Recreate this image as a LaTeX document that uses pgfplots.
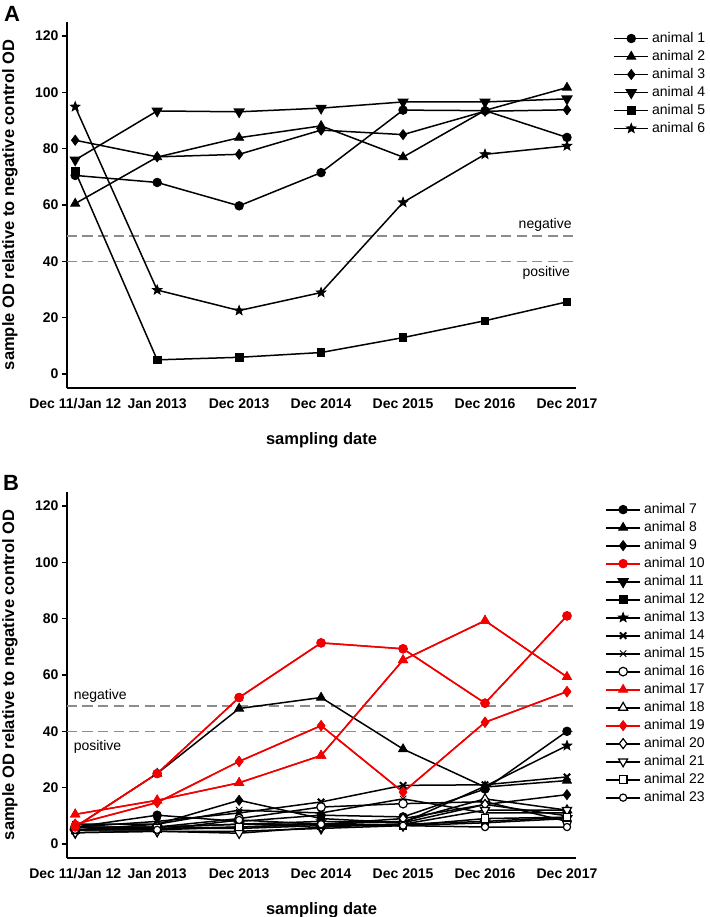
\documentclass[border=0pt]{standalone}
\usepackage{fontspec}
\setmainfont{Liberation Sans}
\usepackage{pgfplots}
\pgfplotsset{compat=1.18}
\definecolor{refline}{HTML}{8C8C8C}
\definecolor{odred}{HTML}{F00000}

% filled five-point star
\pgfdeclareplotmark{fstar}{%
  \pgfpathmoveto{\pgfpointpolar{90}{\pgfplotmarksize}}%
  \pgfpathlineto{\pgfpointpolar{126}{0.42\pgfplotmarksize}}%
  \pgfpathlineto{\pgfpointpolar{162}{\pgfplotmarksize}}%
  \pgfpathlineto{\pgfpointpolar{198}{0.42\pgfplotmarksize}}%
  \pgfpathlineto{\pgfpointpolar{234}{\pgfplotmarksize}}%
  \pgfpathlineto{\pgfpointpolar{270}{0.42\pgfplotmarksize}}%
  \pgfpathlineto{\pgfpointpolar{306}{\pgfplotmarksize}}%
  \pgfpathlineto{\pgfpointpolar{342}{0.42\pgfplotmarksize}}%
  \pgfpathlineto{\pgfpointpolar{18}{\pgfplotmarksize}}%
  \pgfpathlineto{\pgfpointpolar{54}{0.42\pgfplotmarksize}}%
  \pgfpathclose
  \pgfusepathqfillstroke
}

\tikzset{txt/.style={font=\fontsize{14}{16}\selectfont}}

\pgfplotsset{
  od panel/.style={
    scale only axis, width=509pt, height=366pt,
    axis x line*=bottom, axis y line*=left,
    axis line style={line width=1.6pt},
    xmin=-0.1, xmax=6.11, ymin=-5, ymax=125,
    xtick={0,...,6},
    xticklabels={Dec 11/Jan 12,Jan 2013,Dec 2013,Dec 2014,Dec 2015,Dec 2016,Dec 2017},
    ytick={0,20,...,120},
    tick align=outside,
    major tick length=5pt,
    x tick style={draw=none},
    y tick style={line width=1.2pt, black},
    ticklabel style={font=\bfseries\fontsize{14}{16}\selectfont},
    xticklabel style={yshift=-2pt},
    /pgf/number format/assume math mode=true,
    xlabel={sampling date},
    ylabel={sample OD relative to negative control OD},
    every axis x label/.style={at={(axis description cs:0.5,-0.142)}, anchor=center,
      font=\bfseries\fontsize{16.5}{18}\selectfont},
    every axis y label/.style={at={(axis description cs:-0.112,0.5)}, anchor=center, rotate=90,
      font=\bfseries\fontsize{16.5}{18}\selectfont},
    legend cell align=left,
    legend style={draw=none, fill=none, inner sep=0pt, row sep=0pt,
      font=\fontsize{14}{16}\selectfont,
      nodes={inner ysep=2pt, inner xsep=3pt, text height=11pt, text depth=3pt}},
    every legend image post/.append style={line width=1.8pt},
    legend image code/.code={\draw[mark repeat=2, mark phase=2, line width=1.8pt]
      plot coordinates {(0pt,0pt)(17pt,0pt)(34pt,0pt)};},
  },
  ser/.style={line width=1.5pt, black, mark options={solid, line width=0.8pt}},
  rser/.style={line width=1.5pt, odred, mark options={solid, line width=0.8pt}},
  cut/.style={forget plot, refline, line width=1.1pt, dash pattern=on 10pt off 5.5pt},
}

\begin{document}
\begin{tikzpicture}
\useasboundingbox (0pt,0pt) rectangle (709pt,917pt);

% ---------- panel A ----------
\begin{axis}[od panel, at={(67pt,529pt)}, anchor=south west,
  legend style={at={(1.073,0.980)}, anchor=north west}]
\addplot[cut] coordinates {(-0.1,49) (6.11,49)};
\addplot[cut] coordinates {(-0.1,40) (6.11,40)};
\addplot[ser, mark=*, mark size=4.3pt] coordinates {(0,70.5)(1,68)(2,59.7)(3,71.5)(4,93.7)(5,93.5)(6,84)};
\addplot[ser, mark=triangle*, mark size=5.2pt] coordinates {(0,60.5)(1,77)(2,83.9)(3,88.1)(4,77)(5,93.6)(6,101.7)};
\addplot[ser, mark=diamond*, mark size=5pt] coordinates {(0,83)(1,77.1)(2,78)(3,86.6)(4,85)(5,93.3)(6,93.8)};
\addplot[ser, mark=triangle*, mark size=5.2pt, mark options={rotate=180}] coordinates {(0,76)(1,93.4)(2,93.1)(3,94.4)(4,96.6)(5,96.6)(6,97.7)};
\addplot[ser, mark=square*, mark size=3.8pt] coordinates {(0,72)(1,5)(2,5.9)(3,7.6)(4,12.9)(5,18.9)(6,25.6)};
\addplot[ser, mark=fstar, mark size=5pt] coordinates {(0,94.9)(1,29.8)(2,22.5)(3,28.9)(4,60.9)(5,78)(6,81)};
\legend{animal 1,animal 2,animal 3,animal 4,animal 5,animal 6}
\node[txt, anchor=east] at (axis cs:6.1,52.9) {negative};
\node[txt, anchor=east] at (axis cs:6.08,35.9) {positive};
\end{axis}

% ---------- panel B ----------
\begin{axis}[od panel, at={(67pt,59pt)}, anchor=south west,
  legend style={at={(1.057,0.977)}, anchor=north west}]
\addplot[cut] coordinates {(-0.1,49) (6.11,49)};
\addplot[cut] coordinates {(-0.1,40) (6.11,40)};
\addplot[ser, mark=*, mark size=4.3pt] coordinates {(0,6)(1,10.2)(2,8)(3,10.2)(4,9.6)(5,19.5)(6,40)};
\addplot[ser, mark=triangle*, mark size=5.2pt] coordinates {(0,6)(1,25)(2,48.1)(3,52)(4,33.7)(5,20.2)(6,22.5)};
\addplot[ser, mark=diamond*, mark size=5pt] coordinates {(0,5)(1,7)(2,15.5)(3,9)(4,7.5)(5,14)(6,17.5)};
\addplot[rser, mark=*, mark size=4.3pt] coordinates {(0,6)(1,25)(2,52)(3,71.4)(4,69.3)(5,50)(6,81)};
\addplot[ser, mark=triangle*, mark size=5.2pt, mark options={rotate=180}] coordinates {(0,4)(1,4.5)(2,4.5)(3,5.5)(4,6.5)(5,7.5)(6,9)};
\addplot[ser, mark=square*, mark size=3.8pt] coordinates {(0,5)(1,5.5)(2,5.5)(3,6.5)(4,7)(5,8)(6,9.5)};
\addplot[ser, mark=fstar, mark size=5pt] coordinates {(0,5)(1,6)(2,7)(3,8)(4,7.5)(5,20.5)(6,34.9)};
\addplot[ser, mark=x, mark size=4.5pt, mark options={line width=2pt}] coordinates {(0,6)(1,8)(2,11)(3,14.9)(4,20.8)(5,21)(6,23.8)};
\addplot[ser, mark=x, mark size=4.5pt, mark options={line width=0.8pt}] coordinates {(0,7)(1,7)(2,12)(3,11)(4,16)(5,11)(6,11)};
\addplot[ser, mark=*, mark size=4.3pt, mark options={fill=white, line width=1.2pt}] coordinates {(0,6)(1,6)(2,9)(3,13.1)(4,14.3)(5,15)(6,8)};
\addplot[rser, mark=triangle*, mark size=5.2pt] coordinates {(0,10.5)(1,15.5)(2,21.7)(3,31.4)(4,65.3)(5,79.3)(6,59.3)};
\addplot[ser, mark=triangle*, mark size=5.2pt, mark options={fill=white, line width=1.2pt}] coordinates {(0,6)(1,6)(2,7)(3,7)(4,8)(5,16)(6,12)};
\addplot[rser, mark=diamond*, mark size=5pt] coordinates {(0,7)(1,14.7)(2,29.3)(3,42)(4,18.4)(5,43.2)(6,54.1)};
\addplot[ser, mark=diamond*, mark size=5pt, mark options={fill=white, line width=1.2pt}] coordinates {(0,5)(1,5)(2,6)(3,7)(4,9)(5,14)(6,10)};
\addplot[ser, mark=triangle*, mark size=5.2pt, mark options={fill=white, line width=1.2pt, rotate=180}] coordinates {(0,4)(1,4.5)(2,3.8)(3,6)(4,7)(5,12)(6,12)};
\addplot[ser, mark=square*, mark size=3.8pt, mark options={fill=white, line width=1.2pt}] coordinates {(0,5)(1,5.5)(2,6)(3,7)(4,6.5)(5,9)(6,9.5)};
\addplot[ser, mark=*, mark size=3.6pt, mark options={fill=white, line width=1.2pt}] coordinates {(0,5)(1,5)(2,8.5)(3,7)(4,6.5)(5,6)(6,6)};
\legend{animal 7,animal 8,animal 9,animal 10,animal 11,animal 12,animal 13,animal 14,animal 15,animal 16,animal 17,animal 18,animal 19,animal 20,animal 21,animal 22,animal 23}
% red series again on top
\addplot[rser, forget plot, mark=*, mark size=4.3pt] coordinates {(0,6)(1,25)(2,52)(3,71.4)(4,69.3)(5,50)(6,81)};
\addplot[rser, forget plot, mark=triangle*, mark size=5.2pt] coordinates {(0,10.5)(1,15.5)(2,21.7)(3,31.4)(4,65.3)(5,79.3)(6,59.3)};
\addplot[rser, forget plot, mark=diamond*, mark size=5pt] coordinates {(0,7)(1,14.7)(2,29.3)(3,42)(4,18.4)(5,43.2)(6,54.1)};
\node[txt, anchor=west] at (axis cs:-0.06,52.6) {negative};
\node[txt, anchor=west] at (axis cs:-0.06,34.6) {positive};
\end{axis}

\node[font=\bfseries\fontsize{22}{24}\selectfont] at (12pt,903pt) {A};
\node[font=\bfseries\fontsize{22}{24}\selectfont] at (11pt,434pt) {B};
\end{tikzpicture}
\end{document}
